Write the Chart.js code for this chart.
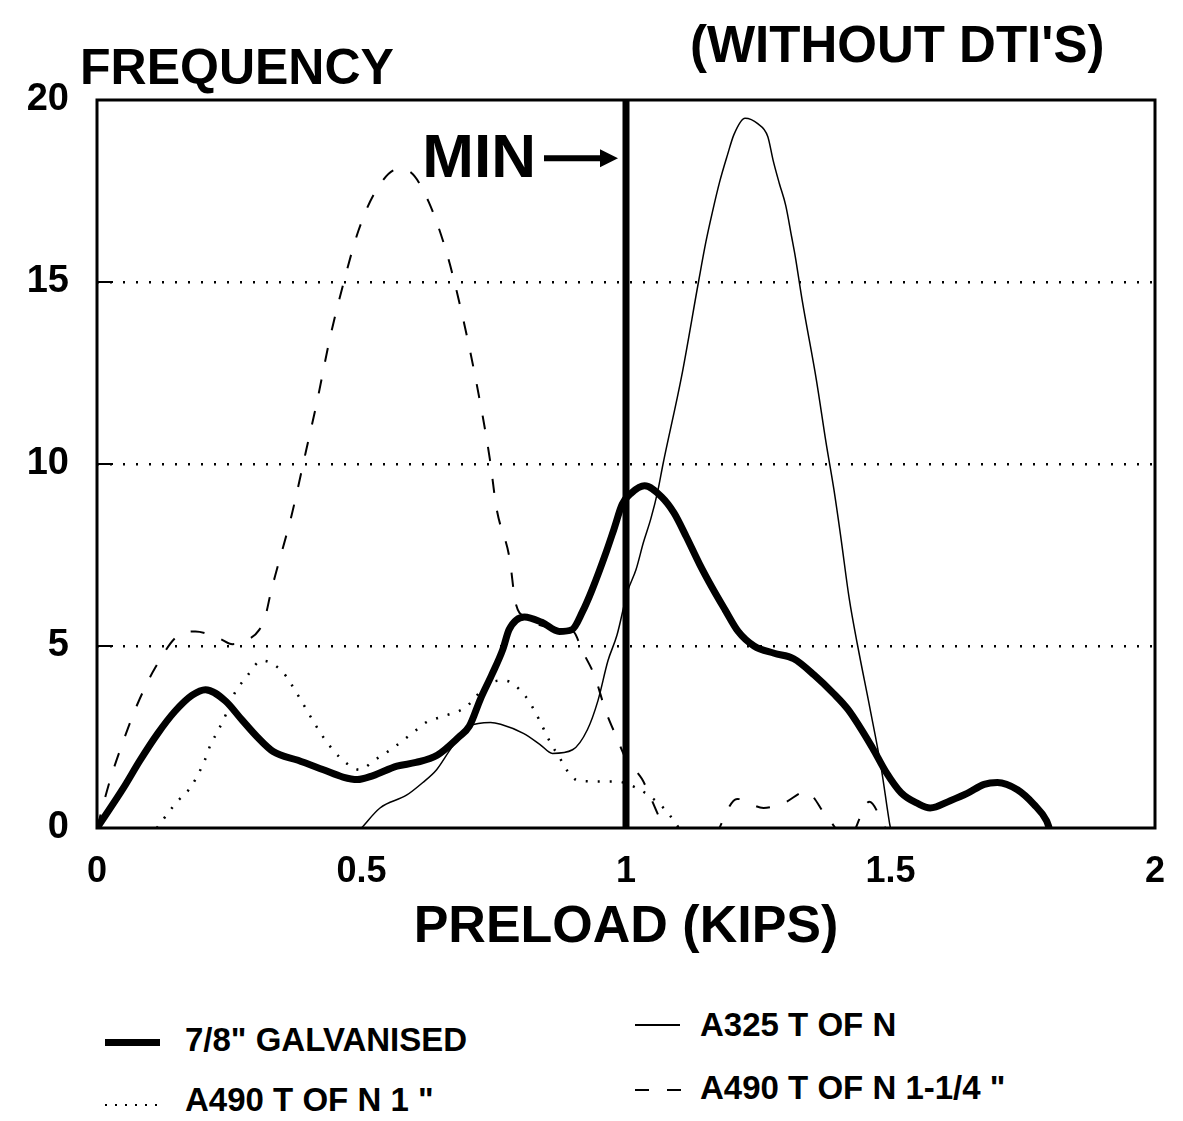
<!DOCTYPE html>
<html>
<head>
<meta charset="utf-8">
<script src="https://cdn.jsdelivr.net/npm/chart.js@4.4.0/dist/chart.umd.min.js"></script>
<style>
body { margin: 0; background: #fff; font-family: "Liberation Sans", Arial, sans-serif; }
#wrap { position: relative; width: 1183px; height: 1121px; overflow: hidden; }
#chart { position: absolute; left: 0; top: 0; }
.txt { position: absolute; font-weight: bold; color: #000; white-space: nowrap; line-height: normal; }
.key { position: absolute; }
</style>
</head>
<body>
<div id="wrap">
  <canvas id="chart" width="1183" height="975"></canvas>
  <div class="txt" style="left:80px;top:38px;font-size:50px;">FREQUENCY</div>
  <div class="txt" style="left:690px;top:15px;font-size:51px;">(WITHOUT DTI'S)</div>

  <div class="key" style="left:105px;top:1039px;width:55px;height:7px;background:#000;"></div>
  <div class="txt" style="left:185px;top:1021px;font-size:33px;">7/8" GALVANISED</div>
  <div class="key" style="left:635px;top:1024px;width:45px;height:2px;background:#000;"></div>
  <div class="txt" style="left:700px;top:1006px;font-size:33px;">A325 T OF N</div>
  <div class="key" style="left:105px;top:1104px;width:52px;height:2px;background:repeating-linear-gradient(90deg,#000 0 2px,transparent 2px 10px);"></div>
  <div class="txt" style="left:185px;top:1081px;font-size:33px;">A490 T OF N 1 "</div>
  <div class="key" style="left:635px;top:1089px;width:46px;height:2px;background:repeating-linear-gradient(90deg,#000 0 14px,transparent 14px 32px);"></div>
  <div class="txt" style="left:700px;top:1069px;font-size:33px;">A490 T OF N 1-1/4 "</div>
</div>
<script>
// preload (kips) / frequency
var galvX = [0, 0.05, 0.081, 0.115, 0.147, 0.18, 0.205, 0.242, 0.274, 0.303, 0.333, 0.38, 0.428, 0.465, 0.492, 0.522, 0.567, 0.603, 0.643, 0.684, 0.704, 0.725, 0.746, 0.767, 0.779, 0.808, 0.841, 0.874, 0.898, 0.918, 0.936, 0.963, 0.977, 0.993, 1.01, 1.035, 1.067, 1.091, 1.114, 1.139, 1.163, 1.187, 1.212, 1.242, 1.28, 1.317, 1.356, 1.392, 1.42, 1.466, 1.491, 1.52, 1.552, 1.575, 1.613, 1.645, 1.677, 1.702, 1.74, 1.771, 1.795, 1.8]
var galvY = [0, 1.1, 1.85, 2.6, 3.2, 3.65, 3.8, 3.5, 2.97, 2.5, 2.1, 1.86, 1.6, 1.4, 1.33, 1.44, 1.7, 1.8, 2.0, 2.5, 2.8, 3.55, 4.2, 4.9, 5.45, 5.8, 5.65, 5.4, 5.45, 5.95, 6.55, 7.6, 8.2, 8.9, 9.2, 9.4, 9.1, 8.65, 8.0, 7.25, 6.6, 6.0, 5.4, 5.0, 4.8, 4.65, 4.2, 3.7, 3.25, 2.2, 1.55, 0.97, 0.67, 0.55, 0.75, 0.95, 1.2, 1.25, 1.05, 0.65, 0.2, 0]

var a325X = [0.5, 0.535, 0.585, 0.616, 0.642, 0.67, 0.704, 0.744, 0.763, 0.806, 0.837, 0.861, 0.899, 0.927, 0.947, 0.966, 0.983, 1.003, 1.019, 1.033, 1.047, 1.06, 1.07, 1.105, 1.137, 1.151, 1.163, 1.177, 1.192, 1.204, 1.225, 1.249, 1.268, 1.278, 1.29, 1.302, 1.313, 1.32, 1.333, 1.36, 1.378, 1.393, 1.406, 1.422, 1.438, 1.461, 1.483, 1.498, 1.5]
var a325Y = [0, 0.55, 0.9, 1.25, 1.6, 2.2, 2.8, 2.9, 2.85, 2.6, 2.3, 2.05, 2.15, 2.7, 3.5, 4.6, 5.3, 6.5, 7.1, 7.85, 8.5, 9.25, 10.0, 12.4, 15.0, 16.1, 16.9, 17.75, 18.5, 19.05, 19.5, 19.35, 19.0, 18.35, 17.7, 17.1, 16.25, 15.7, 14.5, 12.3, 10.6, 9.3, 8.0, 6.3, 5.0, 3.3, 1.6, 0.15, 0]

var a490X = [0.113, 0.15, 0.176, 0.202, 0.215, 0.228, 0.243, 0.26, 0.28, 0.312, 0.35, 0.382, 0.404, 0.43, 0.462, 0.497, 0.523, 0.555, 0.6, 0.622, 0.65, 0.695, 0.745, 0.77, 0.811, 0.835, 0.855, 0.88, 0.89, 0.91, 0.95, 0.98, 1.02, 1.06, 1.08, 1.1]
var a490Y = [0, 0.7, 1.1, 1.8, 2.3, 2.65, 3.1, 3.7, 4.1, 4.6, 4.3, 3.6, 3.05, 2.45, 1.9, 1.6, 1.85, 2.15, 2.65, 2.9, 3.05, 3.3, 4.0, 4.05, 3.6, 3.0, 2.4, 1.8, 1.55, 1.3, 1.28, 1.28, 1.1, 0.7, 0.4, 0]

var a490bX = [0, 0.025, 0.05, 0.072, 0.092, 0.11, 0.15, 0.186, 0.232, 0.256, 0.282, 0.307, 0.318, 0.329, 0.34, 0.368, 0.395, 0.415, 0.441, 0.463, 0.494, 0.527, 0.569, 0.594, 0.627, 0.66, 0.684, 0.715, 0.743, 0.755, 0.78, 0.791, 0.81, 0.86, 0.9, 0.918, 0.94, 0.962, 0.982, 1.0, 1.03, 1.07, 1.11, 1.16, 1.21, 1.26, 1.3, 1.34, 1.38, 1.42, 1.46, 1.49]
var a490bY = [0, 1.33, 2.4, 3.25, 3.9, 4.4, 5.25, 5.4, 5.2, 5.05, 5.15, 5.45, 5.8, 6.5, 7.1, 8.6, 10.35, 11.65, 13.5, 14.8, 16.4, 17.5, 18.1, 18.0, 17.2, 15.85, 14.5, 12.4, 10.1, 8.8, 7.4, 6.2, 5.8, 5.5, 5.4, 4.85, 4.2, 3.2, 2.5, 1.9, 1.35, 0.1, -0.6, -0.4, 0.8, 0.55, 0.7, 1.0, 0.3, -0.3, 0.72, 0]

var minLoad = 1
var minLabelAt = 18.4
var xTickStep = 0.5
var yTickStep = 5

function pts(xs, ys) {
    var out = []
    for (var i = 0; i < Math.min(xs.length, ys.length); i++) out.push({ x: xs[i], y: ys[i] })
    return out
}

var frame = {
    id: 'frame',
    beforeDatasetsDraw(chart) {
        var a = chart.chartArea, c = chart.ctx, ys = chart.scales.y
        c.save()
        c.strokeStyle = '#000'
        c.lineWidth = 3
        c.strokeRect(a.left, a.top, a.right - a.left, a.bottom - a.top)
        c.lineWidth = 2
        for (var v = yTickStep; v < 20; v += yTickStep) {
            var py = ys.getPixelForValue(v)
            c.beginPath(); c.moveTo(a.left, py); c.lineTo(a.left + 16, py); c.stroke()
        }
        c.restore()
    },
    afterDatasetsDraw(chart) {
        var c = chart.ctx
        var px = chart.scales.x.getPixelForValue(minLoad)
        var py = chart.scales.y.getPixelForValue(minLabelAt)
        c.save()
        c.fillStyle = '#000'
        c.strokeStyle = '#000'
        c.font = 'bold 62px "Liberation Sans", Arial, sans-serif'
        c.textAlign = 'right'
        c.textBaseline = 'middle'
        c.fillText('MIN', px - 90, py + 2)
        c.lineWidth = 6
        c.beginPath(); c.moveTo(px - 82, py); c.lineTo(px - 22, py); c.stroke()
        c.beginPath(); c.moveTo(px - 8, py); c.lineTo(px - 26, py - 9); c.lineTo(px - 26, py + 9); c.closePath(); c.fill()
        c.restore()
    }
}

const ctx = document.getElementById('chart')
Chart.defaults.font.family = '"Liberation Sans", Arial, sans-serif'
Chart.defaults.color = '#000'
new Chart(ctx, {
    type: 'line',
    data: {
        datasets: [{
            label: 'A325 T OF N',
            data: pts(a325X, a325Y),
            borderColor: '#000',
            borderWidth: 1.5
        }, {
            label: 'A490 T OF N 1 "',
            data: pts(a490X, a490Y),
            borderColor: '#000',
            borderWidth: 2.5,
            borderDash: [2, 10]
        }, {
            label: 'A490 T OF N 1-1/4 "',
            data: pts(a490bX, a490bY),
            borderColor: '#000',
            borderWidth: 2,
            borderDash: [14, 18]
        }, {
            label: '7/8" GALVANISED',
            data: pts(galvX, galvY),
            borderColor: '#000',
            borderWidth: 7
        }, {
            label: 'MIN',
            data: [{ x: minLoad, y: 0 }, { x: minLoad, y: 20 }],
            borderColor: '#000',
            borderWidth: 7,
            tension: 0
        }]
    },
    options: {
        responsive: false,
        animation: false,
        layout: { padding: { top: 100, right: 28, left: 0, bottom: 0 } },
        plugins: { legend: { display: false }, tooltip: { enabled: false } },
        elements: {
            point: { radius: 0 },
            line: { tension: 0.4, cubicInterpolationMode: 'monotone', borderCapStyle: 'butt' }
        },
        scales: {
            x: {
                type: 'linear',
                min: 0,
                max: 2,
                ticks: {
                    stepSize: xTickStep,
                    padding: 14,
                    font: { size: 36, weight: 'bold' },
                    callback: function (v) { return String(v) }
                },
                grid: { display: false },
                border: { display: false },
                title: { display: true, text: 'PRELOAD (KIPS)', font: { size: 52, weight: 'bold' }, padding: { bottom: 16 } },
                afterFit: function (s) { s.height = 147 }
            },
            y: {
                min: 0,
                max: 20,
                ticks: { stepSize: yTickStep, padding: 28, font: { size: 38, weight: 'bold' } },
                grid: {
                    drawTicks: false,
                    lineWidth: 2.5,
                    color: function (c) { return (c.tick && c.tick.value % 20 !== 0) ? '#000' : 'rgba(0,0,0,0)' }
                },
                border: { display: false, dash: [2, 11] },
                afterFit: function (s) { s.width = 97 }
            }
        }
    },
    plugins: [frame]
});
</script>
</body>
</html>
